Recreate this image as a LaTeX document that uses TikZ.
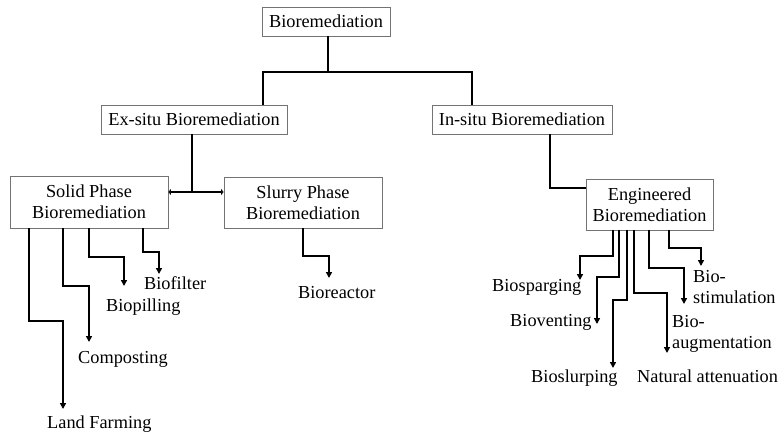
\documentclass[tikz,border=0pt]{standalone}
\usepackage{fontspec}
\setmainfont{Liberation Serif}
\usetikzlibrary{arrows.meta}
\begin{document}
\begin{tikzpicture}[x=1pt,y=-1pt,
  font=\fontsize{18.3}{21}\selectfont,
  box/.style={draw=black!55, line width=0.9pt, inner sep=0pt, align=center},
  ln/.style={line width=2.6pt},
  arr/.style={line width=2.6pt, -{Triangle[length=6pt,width=6pt]}},
  tick/.style={line width=2.6pt, -{Triangle[length=2.5pt,width=6pt]}},
  lab/.style={inner sep=0pt, anchor=base west, align=left}]
\useasboundingbox (0,0) rectangle (784,440);
% boxes
\node[box, minimum width=128pt, minimum height=29pt] (root) at (326,21.5) {Bioremediation};
\node[box, minimum width=186pt, minimum height=29pt] (exsitu) at (194,119.5) {Ex-situ Bioremediation};
\node[box, minimum width=180pt, minimum height=29pt] (insitu) at (522,119.5) {In-situ Bioremediation};
\node[box, minimum width=158pt, minimum height=52pt] (solid) at (89,202) {Solid Phase\\Bioremediation};
\node[box, minimum width=158pt, minimum height=51pt] (slurry) at (303,202.5) {Slurry Phase\\Bioremediation};
\node[box, minimum width=127pt, minimum height=51pt] (eng) at (649.5,204.5) {Engineered\\Bioremediation};
% labels
\node[lab] (lf) at (47,428) {Land Farming};
\node[lab] (comp) at (78,363) {Composting};
\node[lab] (bpil) at (106,311) {Biopilling};
\node[lab] (bfil) at (144,289) {Biofilter};
\node[lab] (brea) at (298,298) {Bioreactor};
\node[lab] (bspa) at (492,291) {Biosparging};
\node[lab] (bven) at (510,326) {Bioventing};
\node[lab] (bslu) at (531,382) {Bioslurping};
\node[lab] (natt) at (637,382) {Natural attenuation};
\node[lab] (baug) at (672,348) {Bio-\\augmentation};
\node[lab] (bsti) at (693,303) {Bio-\\stimulation};
% junctions and arrow ends
\coordinate (j1) at (328,72);
\coordinate (j2) at (192,192);
\coordinate (eLF) at (63,409);
\coordinate (eComp) at (89,342);
\coordinate (eBpil) at (124,286);
\coordinate (eBfil) at (159,274);
\coordinate (eBrea) at (329,278);
\coordinate (eBspa) at (580,280);
\coordinate (eBven) at (597,324);
\coordinate (eBslu) at (613,368);
\coordinate (eNatt) at (667,353);
\coordinate (eBaug) at (684,304);
\coordinate (eBsti) at (701,266);
% top level
\draw[ln] (root.south -| j1) -- (j1) -| (exsitu.north -| 263,0);
\draw[ln] (j1) -| (insitu.north -| 472,0);
% ex-situ
\draw[ln] (exsitu.south -| j2) -- (j2);
\draw[tick] (j2) -- (solid.east |- j2);
\draw[tick] (j2) -- (slurry.west |- j2);
% in-situ
\draw[ln] (insitu.south -| 550,0) |- (eng.west |- 0,188);
% solid phase children
\draw[arr] (solid.south -| 29,0) |- (63,321) -- (eLF);
\draw[arr] (solid.south -| 63,0) |- (89,286) -- (eComp);
\draw[arr] (solid.south -| 89,0) |- (124,257) -- (eBpil);
\draw[arr] (solid.south -| 143,0) |- (159,252) -- (eBfil);
% slurry
\draw[arr] (slurry.south -| 303,0) |- (329,256) -- (eBrea);
% engineered children
\draw[arr] (eng.south -| 613,0) |- (580,256) -- (eBspa);
\draw[arr] (eng.south -| 619,0) |- (597,277) -- (eBven);
\draw[arr] (eng.south -| 627,0) |- (613,300) -- (eBslu);
\draw[arr] (eng.south -| 634,0) |- (667,293) -- (eNatt);
\draw[arr] (eng.south -| 649,0) |- (684,268) -- (eBaug);
\draw[arr] (eng.south -| 669,0) |- (701,248) -- (eBsti);
\end{tikzpicture}
\end{document}
